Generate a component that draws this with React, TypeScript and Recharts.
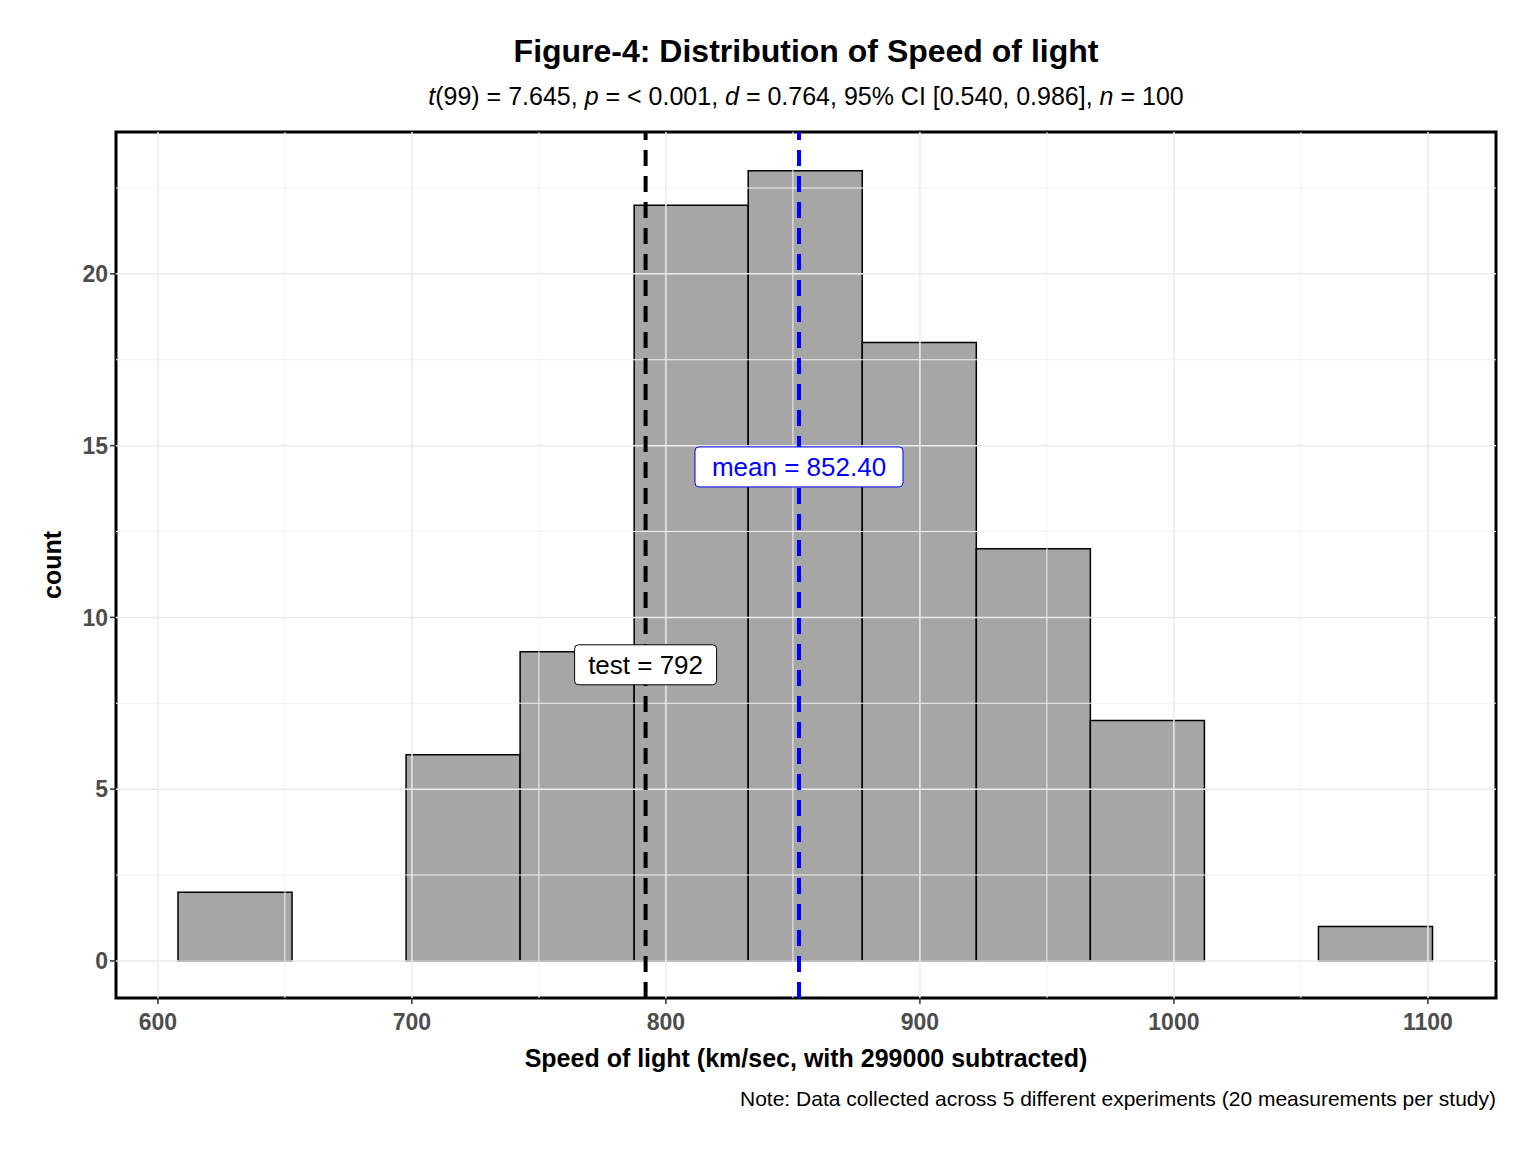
import React from "react";
import {
  ComposedChart, Scatter, XAxis, YAxis, ReferenceLine, ReferenceArea, ReferenceDot,
} from "recharts";

const binStarts = [607.9, 652.8, 697.7, 742.6, 787.5, 832.4, 877.3, 922.2, 967.1, 1012.0, 1056.9];
const binWidth = 44.9;
const counts = [2, 0, 6, 9, 22, 23, 18, 12, 7, 0, 1];
const xTicks = [600, 700, 800, 900, 1000, 1100];
const xMinor = [650, 750, 850, 950, 1050];
const yTicks = [0, 5, 10, 15, 20];
const yMinor = [2.5, 7.5, 12.5, 17.5, 22.5];
const testValue = 792;
const meanValue = 852.4;

const FONT = "'Liberation Sans', Arial, sans-serif";
const X_DOMAIN: [number, number] = [583.5, 1126.8];
const Y_DOMAIN: [number, number] = [-1.08, 24.13];

const points = binStarts.map((s, i) => ({ x: s + binWidth / 2, y: counts[i] }));

const LabelBox = ({ cx, cy, text, color, w }: any) => (
  <g>
    <rect x={cx - w / 2} y={cy - 20} width={w} height={40} rx={4} fill="#fff" stroke={color} strokeWidth={1} />
    <text x={cx} y={cy + 9} textAnchor="middle" fontSize={26} fill={color} fontFamily={FONT}>{text}</text>
  </g>
);

export default function App() {
  return (
    <div style={{ position: "absolute", left: 0, top: 0, width: 1536, height: 1152, background: "#fff", fontFamily: FONT }}>
      <div style={{ position: "absolute", top: 33, left: 116, width: 1380, textAlign: "center", fontSize: 32, fontWeight: "bold" }}>
        Figure-4: Distribution of Speed of light
      </div>
      <div style={{ position: "absolute", top: 82, left: 116, width: 1380, textAlign: "center", fontSize: 25 }}>
        <i>t</i>(99) = 7.645, <i>p</i> = &lt; 0.001, <i>d</i> = 0.764, 95% CI [0.540, 0.986], <i>n</i> = 100
      </div>
      <ComposedChart width={1536} height={1152} data={points}
        margin={{ top: 132, right: 40, left: 56, bottom: 124 }}>
        {xMinor.map((v) => <ReferenceLine key={"xm" + v} x={v} stroke="#f2f2f2" strokeWidth={1} />)}
        {yMinor.map((v) => <ReferenceLine key={"ym" + v} y={v} stroke="#f2f2f2" strokeWidth={1} />)}
        {xTicks.map((v) => <ReferenceLine key={"x" + v} x={v} stroke="#ebebeb" strokeWidth={1.5} />)}
        {yTicks.map((v) => <ReferenceLine key={"y" + v} y={v} stroke="#ebebeb" strokeWidth={1.5} />)}
        <XAxis type="number" dataKey="x" domain={X_DOMAIN} ticks={xTicks} allowDataOverflow
          height={30} tickSize={6} axisLine={false} tickLine={{ stroke: "#333", strokeWidth: 1.5 }}
          tick={{ fill: "#4d4d4d", fontSize: 23, fontWeight: "bold", fontFamily: FONT, dy: 8 }} />
        <YAxis type="number" dataKey="y" domain={Y_DOMAIN} ticks={yTicks} allowDataOverflow
          width={60} tickSize={6} axisLine={false} tickLine={{ stroke: "#333", strokeWidth: 1.5 }}
          tick={{ fill: "#4d4d4d", fontSize: 23, fontWeight: "bold", fontFamily: FONT }} />
        {binStarts.map((s, i) => (
          <ReferenceArea key={"b" + i} x1={s} x2={s + binWidth} y1={0} y2={counts[i]}
            fill="#a6a6a6" fillOpacity={1} stroke="#000" strokeWidth={1.5} />
        ))}
        <Scatter dataKey="y" fill="none" shape={() => <g />} isAnimationActive={false} />
        <ReferenceLine x={testValue} stroke="#000" strokeWidth={4} strokeDasharray="16 10" />
        <ReferenceLine x={meanValue} stroke="#0000ff" strokeWidth={4} strokeDasharray="16 10" />
        <ReferenceDot x={testValue} y={8.62} shape={(p: any) => <LabelBox {...p} text="test = 792" color="#000" w={142} />} />
        <ReferenceDot x={meanValue} y={14.38} shape={(p: any) => <LabelBox {...p} cx={p.cx} text="mean = 852.40" color="#0000ff" w={208} />} />
        <ReferenceArea x1={X_DOMAIN[0]} x2={X_DOMAIN[1]} y1={Y_DOMAIN[0]} y2={Y_DOMAIN[1]}
          fill="none" stroke="#000" strokeWidth={3} ifOverflow="visible" />
      </ComposedChart>
      <div style={{ position: "absolute", top: 1044, left: 116, width: 1380, textAlign: "center", fontSize: 25, fontWeight: "bold" }}>
        Speed of light (km/sec, with 299000 subtracted)
      </div>
      <div style={{ position: "absolute", top: 1087, right: 40, fontSize: 21 }}>
        Note: Data collected across 5 different experiments (20 measurements per study)
      </div>
      <div style={{ position: "absolute", left: 52, top: 565, transform: "translate(-50%, -50%) rotate(-90deg)", fontSize: 25, fontWeight: "bold" }}>
        count
      </div>
    </div>
  );
}
